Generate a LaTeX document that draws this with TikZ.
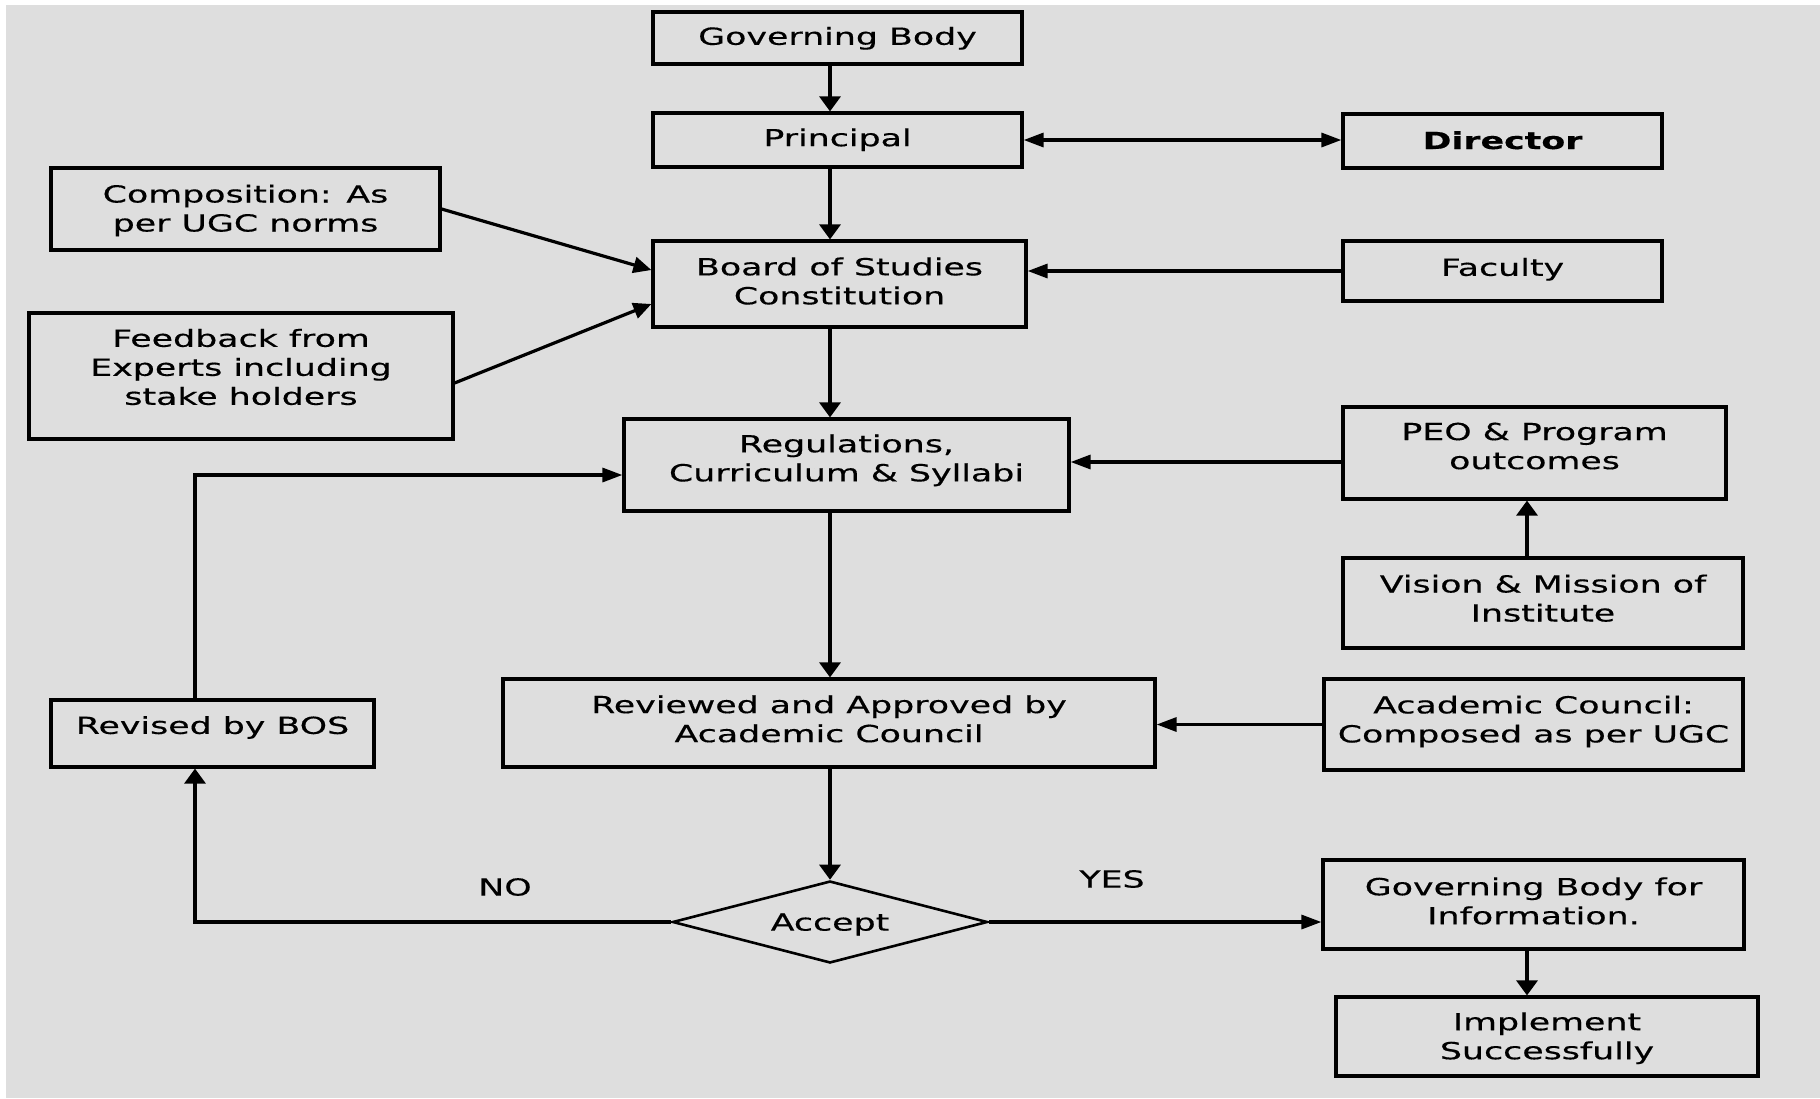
\documentclass[tikz,border=0pt]{standalone}
\usepackage{fontspec}
\setmainfont{DejaVu Sans}[FakeStretch=1.48,FakeBold=0.4]
\usetikzlibrary{arrows.meta,shapes.geometric}
\definecolor{bg}{HTML}{DEDEDE}
\newcommand\T[2]{\smash{\raisebox{#1}{\begin{tabular}{@{}c@{}}#2\end{tabular}}}}
\begin{document}
\begin{tikzpicture}[x=0.5pt,y=-0.5pt,
  font=\fontsize{11.75}{14.5}\selectfont,
  box/.style={draw,line width=1.6pt,inner sep=0pt,align=center},
  varr/.style={line width=1.6pt,-{Triangle[length=7.5pt,width=10.5pt]}},
  harr/.style={line width=1.6pt,-{Triangle[length=10pt,width=7pt]}},
  darr/.style={line width=1.6pt,-{Triangle[length=9pt,width=8pt]}},
  dharr/.style={line width=1.6pt,{Triangle[length=10pt,width=7pt]}-{Triangle[length=10pt,width=7pt]}}
]
\useasboundingbox (0,0) rectangle (1820,1098);
\fill[white] (0,0) rectangle (1820,1098);
\fill[bg] (6,5) rectangle (1820,1098);

\node[box,minimum width=184.5pt,minimum height=26pt] (gb) at (837.5,38) {\T{-3.5pt}{Governing Body}};
\node[box,minimum width=184.5pt,minimum height=27pt] (pr) at (837.5,140) {\T{-3.2pt}{Principal}};
\node[box,minimum width=159.5pt,minimum height=27pt] (dir) at (1502.5,141) {\T{-4.1pt}{\bfseries Director}};
\node[box,minimum width=194.5pt,minimum height=41pt] (comp) at (245.5,209) {\T{-4.1pt}{Composition: As\\per UGC norms}};
\node[box,minimum width=212pt,minimum height=63pt] (fb) at (241,376) {\T{0pt}{Feedback from\\Experts including\\stake holders}};
\node[box,minimum width=186.5pt,minimum height=43pt] (bos) at (839.5,284) {\T{-3pt}{Board of Studies\\Constitution}};
\node[box,minimum width=159.5pt,minimum height=30pt] (fac) at (1502.5,271) {\T{-2.5pt}{Faculty}};
\node[box,minimum width=222.5pt,minimum height=46pt] (reg) at (846.5,465) {\T{-1pt}{Regulations,\\Curriculum \& Syllabi}};
\node[box,minimum width=191.5pt,minimum height=46pt] (peo) at (1534.5,453) {\T{-0.9pt}{PEO \& Program\\outcomes}};
\node[box,minimum width=200pt,minimum height=45pt] (vis) at (1543,603) {\T{-2.1pt}{Vision \& Mission of\\Institute}};
\node[box,minimum width=161.5pt,minimum height=33.5pt] (rev) at (212.5,733.5) {\T{-0.3pt}{Revised by BOS}};
\node[box,minimum width=326pt,minimum height=44pt] (revd) at (829,723) {\T{-2.4pt}{Reviewed and Approved by\\Academic Council}};
\node[box,minimum width=209.5pt,minimum height=45.5pt] (ac) at (1533.5,724.5) {\T{-1.8pt}{Academic Council:\\Composed as per UGC}};
\node[draw,diamond,line width=1.3pt,inner sep=0pt,minimum width=157.5pt,minimum height=41pt,shape aspect=3.84] (acc) at (830,922) {\T{-4.4pt}{Accept}};
\node[box,minimum width=210.5pt,minimum height=44.5pt] (gbi) at (1533.5,904.5) {\T{-2.7pt}{Governing Body for\\Information.}};
\node[box,minimum width=211pt,minimum height=39.5pt] (imp) at (1547,1036.5) {\T{-4.2pt}{Implement\\Successfully}};
\node (no) at (505,887) {NO};
\node (yes) at (1112,879) {YES};
\coordinate (lx) at (195,0);
\coordinate (rx) at (1527,0);

\draw[varr] (gb.south -| acc) -- (pr.north -| acc);
\draw[dharr] (pr.east) -- (pr.east -| dir.west);
\draw[varr] (pr.south -| acc) -- (bos.north -| acc);
\draw[darr] (comp.east) -- ([yshift=7pt]bos.west);
\draw[darr] ([yshift=-3.5pt]fb.east) -- ([yshift=-10pt]bos.west);
\draw[harr] (fac.west) -- (fac.west -| bos.east);
\draw[varr] (bos.south -| acc) -- (reg.north -| acc);
\draw[harr] ([yshift=1.5pt]reg.east -| peo.west) -- ([yshift=1.5pt]reg.east);
\draw[varr] (vis.north -| rx) -- (peo.south -| rx);
\draw[varr] (reg.south -| acc) -- (revd.north -| acc);
\draw[harr] (ac.west) -- (ac.west -| revd.east);
\draw[varr] (revd.south -| acc) -- (acc.north);
\draw[varr] (acc.west) -| (rev.south -| lx);
\draw[harr] (rev.north -| lx) |- ([yshift=-5pt]reg.west);
\draw[harr] (acc.east) -- (acc.east -| gbi.west);
\draw[varr] (gbi.south -| rx) -- (imp.north -| rx);
\end{tikzpicture}
\end{document}
